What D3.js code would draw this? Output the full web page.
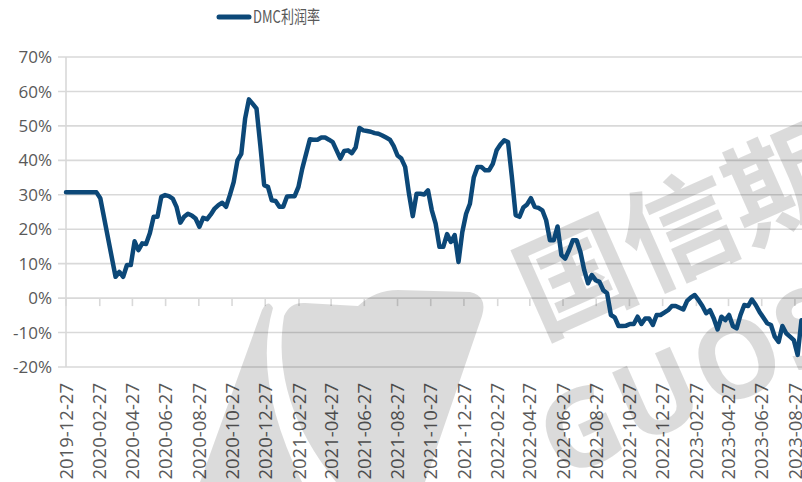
<!DOCTYPE html>
<html>
<head>
<meta charset="utf-8">
<script src="https://cdn.jsdelivr.net/npm/d3@7/dist/d3.min.js"></script>
<style>
  body { margin: 0; background: #fff; }
  svg { display: block; font-family: "Open Sans", "Noto Sans", sans-serif; }
</style>
</head>
<body>
<svg class="chart"></svg>
<script>
// weekly DMC profit margin (%), vertices
var dates = [
  "2019-12-27","2020-02-21","2020-02-28","2020-03-27","2020-04-03","2020-04-10","2020-04-17","2020-04-24",
  "2020-05-01","2020-05-08","2020-05-15","2020-05-22","2020-05-29","2020-06-05","2020-06-12","2020-06-19",
  "2020-06-26","2020-07-03","2020-07-10","2020-07-17","2020-07-24","2020-07-31","2020-08-07","2020-08-14",
  "2020-08-21","2020-08-28","2020-09-04","2020-09-11","2020-09-18","2020-09-25","2020-10-02","2020-10-09",
  "2020-10-16","2020-10-23","2020-10-30","2020-11-06","2020-11-13","2020-11-20","2020-11-27","2020-12-04",
  "2020-12-11","2020-12-18","2020-12-25","2021-01-01","2021-01-08","2021-01-15","2021-01-22","2021-01-29",
  "2021-02-05","2021-02-12","2021-02-19","2021-02-26","2021-03-05","2021-03-19","2021-03-26","2021-04-02",
  "2021-04-09","2021-04-16","2021-04-23","2021-04-30","2021-05-07","2021-05-14","2021-05-21","2021-05-28",
  "2021-06-04","2021-06-11","2021-06-18","2021-06-25","2021-07-02","2021-07-09","2021-07-16","2021-07-23",
  "2021-07-30","2021-08-06","2021-08-13","2021-08-20","2021-08-27","2021-09-03","2021-09-10","2021-09-17",
  "2021-09-24","2021-10-01","2021-10-08","2021-10-15","2021-10-22","2021-10-29","2021-11-05","2021-11-12",
  "2021-11-19","2021-11-26","2021-12-03","2021-12-10","2021-12-17","2021-12-24","2021-12-31","2022-01-07",
  "2022-01-14","2022-01-21","2022-01-28","2022-02-04","2022-02-11","2022-02-18","2022-02-25","2022-03-04",
  "2022-03-11","2022-03-18","2022-03-25","2022-04-01","2022-04-08","2022-04-15","2022-04-22","2022-04-29",
  "2022-05-06","2022-05-13","2022-05-20","2022-05-27","2022-06-03","2022-06-10","2022-06-17","2022-06-24",
  "2022-07-01","2022-07-08","2022-07-15","2022-07-22","2022-07-29","2022-08-05","2022-08-12","2022-08-19",
  "2022-08-26","2022-09-02","2022-09-09","2022-09-16","2022-09-23","2022-09-30","2022-10-07","2022-10-14",
  "2022-10-21","2022-10-28","2022-11-04","2022-11-11","2022-11-18","2022-11-25","2022-12-02","2022-12-09",
  "2022-12-16","2022-12-23","2022-12-30","2023-01-06","2023-01-13","2023-01-20","2023-01-27","2023-02-03",
  "2023-02-10","2023-02-17","2023-02-24","2023-03-03","2023-03-10","2023-03-17","2023-03-24","2023-03-31",
  "2023-04-07","2023-04-14","2023-04-21","2023-04-28","2023-05-05","2023-05-12","2023-05-19","2023-05-26",
  "2023-06-02","2023-06-09","2023-06-16","2023-06-23","2023-07-07","2023-07-14","2023-07-21","2023-07-28",
  "2023-08-04","2023-08-11","2023-08-18","2023-08-25","2023-09-01","2023-09-08"
];
var margin = [
  30.7, 30.7, 29.0, 6.2, 7.6, 6.2, 9.6, 9.6,
  16.5, 13.9, 15.9, 15.7, 18.8, 23.6, 23.6, 29.4,
  29.9, 29.6, 28.9, 26.5, 21.9, 23.6, 24.5, 24.0,
  23.1, 20.7, 23.3, 22.9, 24.3, 26.0, 27.0, 27.7,
  26.5, 29.9, 33.7, 40.0, 41.9, 52.1, 57.7, 56.4,
  55.0, 44.3, 32.8, 32.3, 28.4, 28.2, 26.5, 26.5,
  29.5, 29.6, 29.6, 32.3, 37.6, 46.1, 46.0, 46.0,
  46.6, 46.6, 46.0, 45.3, 42.9, 40.5, 42.7, 42.9,
  42.1, 43.7, 49.4, 48.7, 48.5, 48.3, 47.9, 47.7,
  47.2, 46.6, 46.0, 44.1, 41.4, 40.5, 38.1, 30.3,
  23.8, 30.3, 30.3, 30.1, 31.3, 25.5, 21.6, 14.9,
  14.9, 18.6, 16.3, 18.3, 10.5, 19.2, 24.5, 27.4,
  35.0, 38.1, 38.1, 37.1, 37.1, 39.0, 42.9, 44.6,
  45.8, 45.3, 35.2, 24.1, 23.6, 26.3, 27.2, 29.0,
  26.5, 26.2, 25.5, 22.6, 16.8, 16.8, 20.8, 12.5,
  11.5, 13.9, 16.8, 16.8, 13.4, 8.1, 4.3, 6.7,
  5.2, 4.7, 2.3, 1.4, -4.9, -5.6, -8.1, -8.1,
  -8.0, -7.5, -7.5, -5.4, -7.5, -5.9, -5.9, -7.8,
  -4.9, -4.9, -4.2, -3.5, -2.3, -2.3, -2.8, -3.3,
  -0.8, 0.2, 0.9, -0.6, -2.3, -4.4, -3.5, -5.9,
  -9.1, -5.4, -6.4, -4.9, -8.1, -8.8, -4.9, -2.0,
  -2.3, -0.4, -2.0, -4.0, -7.3, -7.8, -11.2, -12.7,
  -8.1, -10.2, -11.2, -12.2, -16.5, -6.4
];
var tickLabels = [
  "2019-12-27","2020-02-27","2020-04-27","2020-06-27","2020-08-27","2020-10-27","2020-12-27",
  "2021-02-27","2021-04-27","2021-06-27","2021-08-27","2021-10-27","2021-12-27",
  "2022-02-27","2022-04-27","2022-06-27","2022-08-27","2022-10-27","2022-12-27",
  "2023-02-27","2023-04-27","2023-06-27","2023-08-27"
];
var yTicks = [-20, -10, 0, 10, 20, 30, 40, 50, 60, 70];
var seriesName = "DMC利润率";

function init() {
  var frameWidth = 802;
  var frameHeight = 482;
  var left = 66, right = 802, top = 57, bottom = 367;
  var lineColor = "#0c4878";
  var gridColor = "#d9d9d9";
  var textColor = "#595959";

  var parse = d3.utcParse("%Y-%m-%d");
  var data = dates.map(function(d, i) { return { date: parse(d), value: margin[i] }; });

  var xScale = d3.scaleUtc()
    .domain([parse("2019-12-27"), parse("2023-09-09")])
    .range([left, right]);
  var yScale = d3.scaleLinear().domain([-20, 70]).range([bottom, top]);

  var svg = d3.select(".chart")
    .attr("width", frameWidth)
    .attr("height", frameHeight);

  svg.append("rect").attr("width", frameWidth).attr("height", frameHeight).attr("fill", "#fff");

  // horizontal gridlines + y labels
  var yAxis = svg.append("g");
  yAxis.selectAll("line").data(yTicks).enter().append("line")
    .attr("x1", left - 8).attr("x2", right)
    .attr("y1", function(d) { return yScale(d); })
    .attr("y2", function(d) { return yScale(d); })
    .attr("stroke", gridColor).attr("stroke-width", 1.6);
  yAxis.selectAll("text").data(yTicks).enter().append("text")
    .attr("x", 52)
    .attr("y", function(d) { return yScale(d); })
    .attr("dy", "0.36em")
    .attr("text-anchor", "end")
    .attr("fill", textColor)
    .style("font-size", "17px")
    .text(function(d) { return d + "%"; });

  svg.append("line")
    .attr("x1", left).attr("x2", left)
    .attr("y1", top).attr("y2", bottom)
    .attr("stroke", gridColor).attr("stroke-width", 1.6);

  // x axis: ticks hang from the 0% line, labels sit at the bottom
  var xg = svg.append("g");
  xg.selectAll("line").data(tickLabels).enter().append("line")
    .attr("x1", function(d) { return xScale(parse(d)); })
    .attr("x2", function(d) { return xScale(parse(d)); })
    .attr("y1", yScale(0)).attr("y2", yScale(0) + 8)
    .attr("stroke", gridColor).attr("stroke-width", 1.6);
  xg.selectAll("text").data(tickLabels).enter().append("text")
    .attr("transform", function(d) {
      return "translate(" + xScale(parse(d)) + ",383) rotate(-90)";
    })
    .attr("dy", "0.36em")
    .attr("text-anchor", "end")
    .attr("fill", textColor)
    .style("font-size", "18.5px")
    .text(function(d) { return d; });

  // watermark (logo + company name), semi transparent grey
  var wm = svg.append("g").attr("fill", "#000").attr("fill-opacity", 0.14);
  wm.append("path")
    .attr("d", "M200,482 L262,310 Q268,298 273,308 Q252,380 302,482 Z");
  wm.append("path")
    .attr("d", "M336,482 Q270,400 284,316 Q290,302 305,303 L358,306 Q375,290 398,290 L470,292 Q488,296 482,316 L425,482 Z");
  wm.append("text")
    .attr("transform", "translate(540,338) rotate(-24)")
    .style("font-family", "'Noto Sans CJK SC'")
    .style("font-weight", "bold")
    .style("font-size", "114px")
    .text("国信期货");
  wm.append("text")
    .attr("transform", "translate(560,480) rotate(-24)")
    .style("font-family", "'Open Sans'")
    .style("font-weight", "bold")
    .style("font-size", "108px")
    .style("letter-spacing", "4px")
    .text("GUOSEN");

  var line = d3.line()
    .x(function(d) { return xScale(d.date); })
    .y(function(d) { return yScale(d.value); });

  svg.append("path")
    .datum(data)
    .attr("d", line)
    .attr("fill", "none")
    .attr("stroke", lineColor)
    .attr("stroke-width", 4.5)
    .attr("stroke-linejoin", "round")
    .attr("stroke-linecap", "round");

  // legend
  svg.append("line")
    .attr("x1", 219).attr("x2", 249)
    .attr("y1", 17).attr("y2", 17)
    .attr("stroke", lineColor).attr("stroke-width", 5)
    .attr("stroke-linecap", "round");
  svg.append("text")
    .attr("x", 253).attr("y", 17)
    .attr("dy", "0.36em")
    .attr("fill", textColor)
    .attr("textLength", 67)
    .attr("lengthAdjust", "spacingAndGlyphs")
    .style("font-family", "'Noto Sans CJK SC'")
    .style("font-size", "17px")
    .text(seriesName);
}
init();
</script>
</body>
</html>
